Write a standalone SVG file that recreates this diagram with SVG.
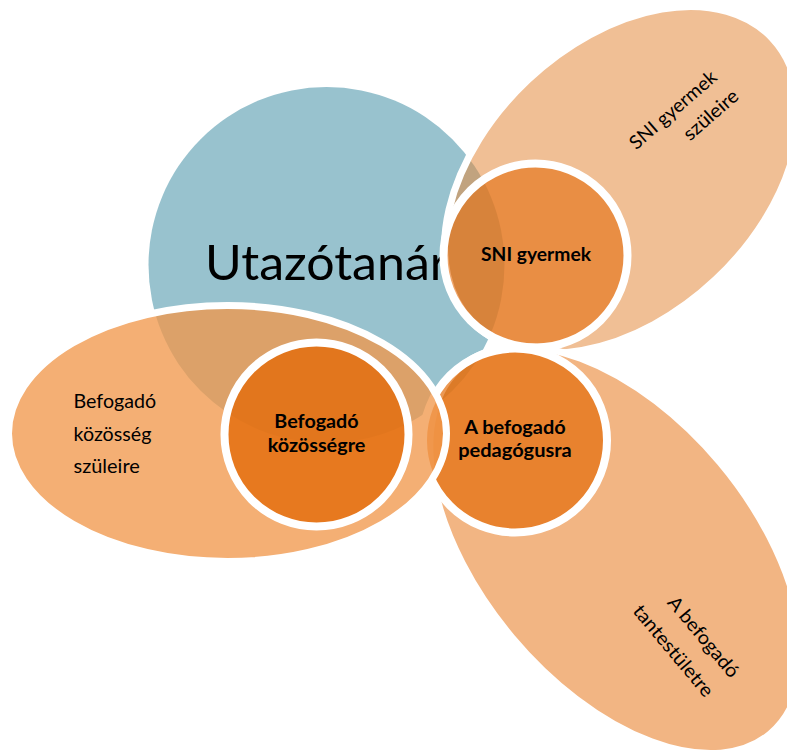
<svg xmlns="http://www.w3.org/2000/svg" width="787" height="754" viewBox="0 0 787 754">
<style>
.bg{fill:#FFFFFF}
.outer{stroke:#FFFFFF;stroke-width:7}
.inner{stroke:#FFFFFF;stroke-width:8}
.t{font-family:Lato,"Open Sans","Liberation Sans",sans-serif;fill:#000000}
.reg{font-size:19px;font-weight:400}
.bold{font-size:19px;font-weight:700;text-anchor:middle}
.big{font-size:48px;font-weight:400;text-anchor:middle}
.end{text-anchor:end}
</style>
<rect class="bg" x="0" y="0" width="787" height="754"/>
<g id="connectors"></g>
<g id="utazotanar">
  <circle cx="326.5" cy="265" r="178" fill="#98C2CE"/>
  <text class="t big" x="326.5" y="280" textLength="243" lengthAdjust="spacingAndGlyphs">Utazótanár</text>
</g>
<g id="sni-gyermek-szuleire">
  <ellipse class="outer" cx="621.8" cy="179.7" rx="206.5" ry="137" transform="rotate(-43.3 621.8 179.7)" fill="#E48B3E" fill-opacity="0.55"/>
  <g transform="translate(718.3 79) rotate(-41)">
    <text class="t reg end" x="0" y="0" textLength="108.8" lengthAdjust="spacingAndGlyphs">SNI gyermek</text>
    <text class="t reg end" x="4" y="28.6" textLength="66.3" lengthAdjust="spacingAndGlyphs">szüleire</text>
  </g>
</g>
<g id="sni-gyermek">
  <circle class="inner" cx="535.5" cy="255.5" r="92" fill="#E57011" fill-opacity="0.62"/>
  <text class="t bold" x="536" y="261" textLength="110" lengthAdjust="spacingAndGlyphs">SNI gyermek</text>
</g>
<g id="befogado-tantestuletre">
  <ellipse class="outer" cx="616" cy="550" rx="240" ry="136" transform="rotate(50 616 550)" fill="#E98430" fill-opacity="0.6"/>
  <g transform="translate(730.4 679) rotate(50)">
    <text class="t reg end" x="0" y="0" textLength="99.3" lengthAdjust="spacingAndGlyphs">A befogadó</text>
    <text class="t reg end" x="-1.5" y="32" textLength="113.6" lengthAdjust="spacingAndGlyphs">tantestületre</text>
  </g>
</g>
<g id="befogado-pedagogusra">
  <circle class="inner" cx="515" cy="440.5" r="92" fill="#E46C0A" fill-opacity="0.7"/>
  <text class="t bold" x="515" y="434" textLength="101.5" lengthAdjust="spacingAndGlyphs">A befogadó</text>
  <text class="t bold" x="515" y="457.3" textLength="113.6" lengthAdjust="spacingAndGlyphs">pedagógusra</text>
</g>
<g id="befogado-kozosseg-szuleire">
  <ellipse class="outer" cx="227.5" cy="433.5" rx="219" ry="128" fill="#F1974A" fill-opacity="0.77"/>
  <text class="t reg" x="73.5" y="408.3" textLength="82.6" lengthAdjust="spacingAndGlyphs">Befogadó</text>
  <text class="t reg" x="73.5" y="441" textLength="77.9" lengthAdjust="spacingAndGlyphs">közösség</text>
  <text class="t reg" x="73.5" y="473.3" textLength="66.3" lengthAdjust="spacingAndGlyphs">szüleire</text>
</g>
<g id="befogado-kozossegre">
  <circle class="inner" cx="316.5" cy="434.5" r="92" fill="#E46C0A" fill-opacity="0.8"/>
  <text class="t bold" x="316.5" y="428.3" textLength="84.3" lengthAdjust="spacingAndGlyphs">Befogadó</text>
  <text class="t bold" x="316.5" y="452" textLength="97.6" lengthAdjust="spacingAndGlyphs">közösségre</text>
</g>
</svg>
